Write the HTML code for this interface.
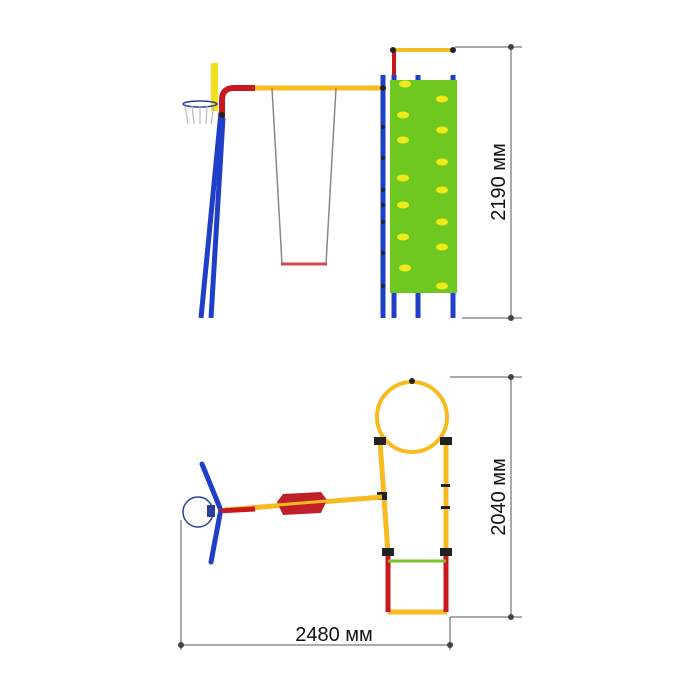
<!DOCTYPE html>
<html><head><style>body{margin:0;background:#fff}svg{display:block}</style></head><body>
<svg width="700" height="700" viewBox="0 0 700 700" xmlns="http://www.w3.org/2000/svg" font-family="Liberation Sans, sans-serif">
<g stroke="#555" stroke-width="1">
<line x1="455" y1="47" x2="522" y2="47"/><line x1="462" y1="318" x2="522" y2="318"/>
<line x1="511" y1="47" x2="511" y2="318"/>
<line x1="450" y1="377" x2="522" y2="377"/><line x1="450" y1="617" x2="522" y2="617"/>
<line x1="511" y1="377" x2="511" y2="617"/>
<line x1="181" y1="520" x2="181" y2="650"/><line x1="450" y1="617" x2="450" y2="650"/>
<line x1="181" y1="645" x2="450" y2="645"/>
</g>
<g fill="#444"><circle cx="511" cy="47" r="3"/><circle cx="511" cy="318" r="3"/><circle cx="511" cy="377" r="3"/><circle cx="511" cy="617" r="3"/><circle cx="181" cy="645" r="3"/><circle cx="450" cy="645" r="3"/></g>
<text transform="translate(505,182) rotate(-90)" font-size="20" text-anchor="middle" fill="#111">2190 мм</text>
<text transform="translate(505,497) rotate(-90)" font-size="20" text-anchor="middle" fill="#111">2040 мм</text>
<text x="334" y="641" font-size="20" text-anchor="middle" fill="#111">2480 мм</text>
<g stroke="#1f3fc8" stroke-width="5" stroke-linecap="butt">
<line x1="221" y1="112" x2="201" y2="318"/><line x1="223" y1="118" x2="211" y2="318"/>
<line x1="383" y1="75" x2="383" y2="318"/><line x1="394" y1="75" x2="394" y2="318"/>
<line x1="418" y1="75" x2="418" y2="318"/><line x1="453" y1="75" x2="453" y2="318"/>
</g>
<rect x="211" y="63" width="7" height="48" fill="#f2e01a"/>
<ellipse cx="200" cy="104" rx="17" ry="3" fill="none" stroke="#2a3fa0" stroke-width="1.5"/>
<path d="M185 106 L188 124 M192 106 L194 124 M200 106 L200 124 M207 106 L206 124 M214 106 L211 124" stroke="#bbb" stroke-width="1.2"/>
<path d="M222 118 L222 100 Q222 88 234 88 L255 88" fill="none" stroke="#c8181e" stroke-width="6"/>
<line x1="255" y1="88" x2="385" y2="88" stroke="#f7bb1f" stroke-width="5"/>
<line x1="393" y1="50" x2="453" y2="50" stroke="#f7bb1f" stroke-width="4"/>
<line x1="394" y1="50" x2="394" y2="75" stroke="#c8181e" stroke-width="4"/>
<g stroke="#888" stroke-width="1.5"><line x1="272" y1="88" x2="282" y2="264"/><line x1="336" y1="88" x2="326" y2="264"/></g>
<line x1="281" y1="264" x2="327" y2="264" stroke="#d24a4a" stroke-width="3"/>
<g fill="#222"><circle cx="383" cy="127" r="2"/><circle cx="383" cy="158" r="2"/><circle cx="383" cy="190" r="2"/><circle cx="383" cy="205" r="2"/><circle cx="383" cy="222" r="2"/><circle cx="383" cy="253" r="2"/><circle cx="383" cy="286" r="2"/><circle cx="383" cy="88" r="3"/><circle cx="393" cy="50" r="3"/><circle cx="453" cy="50" r="3"/><circle cx="222" cy="115" r="3"/></g>
<rect x="390" y="80" width="67" height="213" fill="#6fc81f"/>
<g fill="#f0ea18">
<ellipse cx="405" cy="84" rx="6" ry="3.5"/><ellipse cx="442" cy="99" rx="6" ry="3.5"/><ellipse cx="403" cy="115" rx="6" ry="3.5"/><ellipse cx="442" cy="130" rx="6" ry="3.5"/><ellipse cx="403" cy="140" rx="6" ry="3.5"/><ellipse cx="442" cy="162" rx="6" ry="3.5"/><ellipse cx="403" cy="178" rx="6" ry="3.5"/><ellipse cx="442" cy="190" rx="6" ry="3.5"/><ellipse cx="403" cy="205" rx="6" ry="3.5"/><ellipse cx="442" cy="222" rx="6" ry="3.5"/><ellipse cx="403" cy="237" rx="6" ry="3.5"/><ellipse cx="442" cy="247" rx="6" ry="3.5"/><ellipse cx="405" cy="268" rx="6" ry="3.5"/><ellipse cx="442" cy="286" rx="6" ry="3.5"/>
</g>
<circle cx="412" cy="417" r="35" fill="none" stroke="#f7bb1f" stroke-width="4"/>
<circle cx="412" cy="381" r="3" fill="#222"/>
<g stroke="#f7bb1f" stroke-width="5"><line x1="380" y1="442" x2="388" y2="553"/><line x1="446" y1="442" x2="446" y2="553"/><line x1="388" y1="612" x2="447" y2="612"/></g>
<g stroke="#c8181e" stroke-width="5"><line x1="388" y1="553" x2="388" y2="612"/><line x1="446" y1="553" x2="446" y2="612"/></g>
<line x1="388" y1="561" x2="446" y2="561" stroke="#7cc22a" stroke-width="3"/>
<g fill="#222"><rect x="374" y="437" width="12" height="8"/><rect x="440" y="437" width="12" height="8"/><rect x="382" y="548" width="12" height="8"/><rect x="440" y="548" width="12" height="8"/><rect x="377" y="492" width="10" height="8"/><rect x="441" y="484" width="9" height="3"/><rect x="441" y="506" width="9" height="3"/></g>
<line x1="225" y1="510" x2="382" y2="497" stroke="#f7bb1f" stroke-width="5"/>
<line x1="218" y1="511" x2="255" y2="509" stroke="#c8181e" stroke-width="5"/>
<path d="M277 502 L283 494 L321 492 L327 500 L321 513 L283 515 Z" fill="#c0202a"/>
<line x1="277" y1="505" x2="327" y2="501" stroke="#f7bb1f" stroke-width="3"/>
<circle cx="198" cy="512" r="15" fill="none" stroke="#2a3fa0" stroke-width="1.5"/>
<rect x="207" y="505" width="8" height="12" fill="#2a3fa0"/>
<g stroke="#1f3fc8" stroke-width="5" stroke-linecap="round"><line x1="202" y1="464" x2="220" y2="508"/><line x1="220" y1="514" x2="211" y2="562"/></g>
</svg>
</body></html>
